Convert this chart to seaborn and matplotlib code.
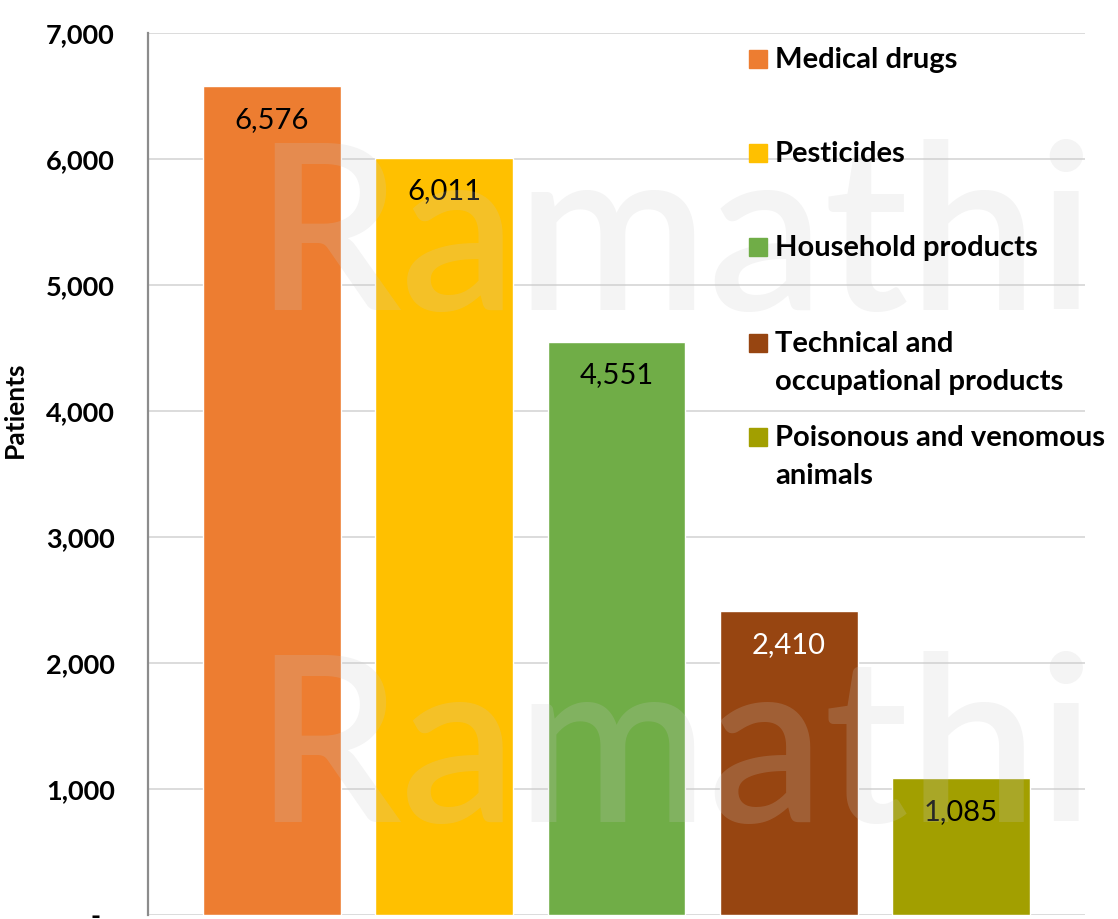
import matplotlib
matplotlib.use("Agg")
import matplotlib.pyplot as plt
from matplotlib.patches import Rectangle
from matplotlib.ticker import FuncFormatter
import seaborn as sns

# data
categories = ["Medical drugs", "Pesticides", "Household products",
              "Technical and\noccupational products", "Poisonous and venomous\nanimals"]
patients = [6576, 6011, 4551, 2410, 1085]
colors = ["#ED7D31", "#FFC000", "#70AD47", "#974511", "#A29F00"]
label_colors = ["black", "black", "black", "white", "black"]
yticks = [0, 1000, 2000, 3000, 4000, 5000, 6000, 7000]

sns.set_style("white")
plt.rcParams["font.family"] = ["Lato", "DejaVu Sans"]
plt.rcParams["text.color"] = "black"
plt.rcParams["axes.labelcolor"] = "black"
plt.rcParams["ytick.color"] = "black"

W, H = 1118, 919
fig = plt.figure(figsize=(W / 100, H / 100), dpi=100)
ax_w = 1085 - 148
ax = fig.add_axes([148 / W, (H - 915) / H, ax_w / W, (915 - 33) / H])

sns.barplot(x=list(range(len(categories))), y=patients, hue=list(range(len(categories))),
            palette=colors, width=0.8, saturation=1, legend=False, ax=ax, zorder=2)

ax.set_xlim(-0.72, 4.72)
ax.set_ylim(0, 7000)
ax.set_yticks(yticks)
ax.yaxis.set_major_formatter(FuncFormatter(lambda v, p: "-  " if v == 0 else f"{int(v):,}"))
ax.tick_params(axis="y", length=0, pad=24, labelsize=19.5, labelcolor="black")
for lab in ax.get_yticklabels():
    lab.set_fontweight("bold")
ax.set_xticks([])
ax.set_xlabel("")
ax.set_ylabel("Patients", fontsize=19, fontweight="bold", color="black")
ax.yaxis.set_label_coords((27 - 148) / ax_w, 0.573)

ax.grid(axis="y", color="#D9D9D9", linewidth=1.3, zorder=0)
ax.set_axisbelow(True)
for side in ["top", "right", "bottom"]:
    ax.spines[side].set_visible(False)
ax.spines["left"].set_color("#8C8C8C")
ax.spines["left"].set_linewidth(1.6)

# value labels inside the bars
for cont, col in zip(ax.containers, label_colors):
    texts = ax.bar_label(cont, labels=[f"{int(b.get_height()):,}" for b in cont],
                         padding=-24, fontsize=21, color=col)
    for t in texts:
        t.set_va("center")

# watermark
for base in (310, 822):
    fig.text(254 / W, 1 - base / H, "Ramathi", fontsize=166, color="#C8C8C8",
             fontweight="semibold", alpha=0.2, ha="left", va="baseline", zorder=5)

# legend, Excel style: handle aligned with first text line
leg_y = [59, 153, 247, 343, 437]
for lbl, col, y in zip(categories, colors, leg_y):
    fig.patches.append(Rectangle((749 / W, 1 - (y + 9) / H), 18 / W, 18 / H,
                                 transform=fig.transFigure, color=col, zorder=6))
    for i, line in enumerate(lbl.split("\n")):
        fig.text(775 / W, 1 - (y + 9 + 38 * i) / H, line, fontsize=21, fontweight="bold",
                 color="black", ha="left", va="baseline", zorder=6)

fig.savefig("out.png", dpi=100)
